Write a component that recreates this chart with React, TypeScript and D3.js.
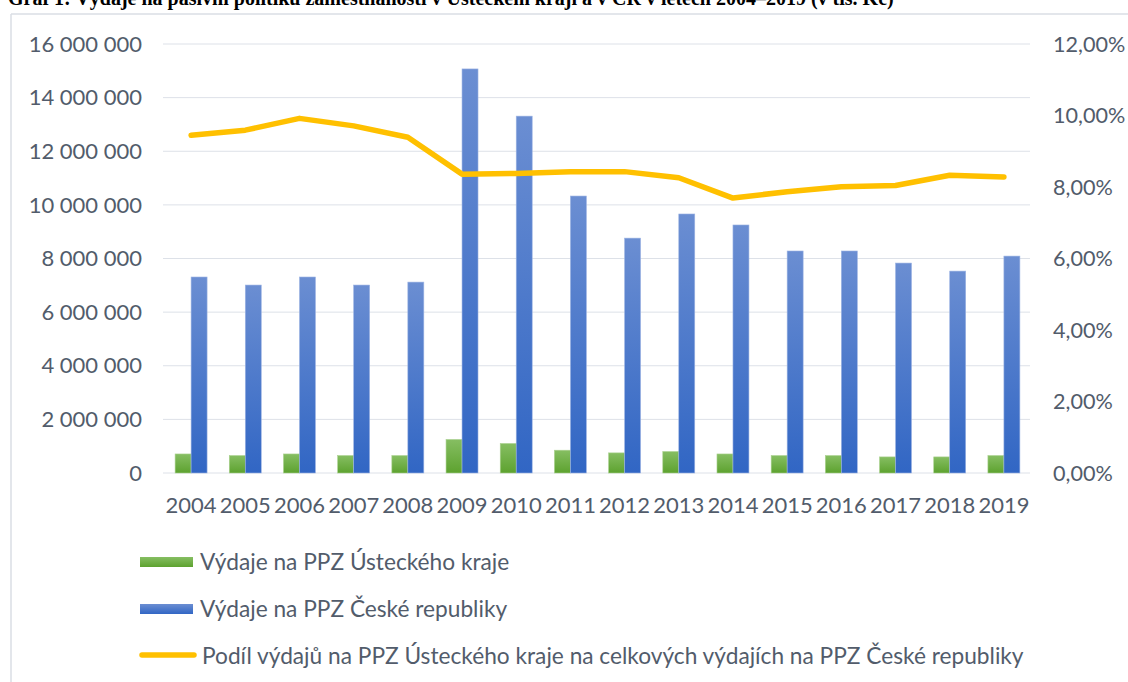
import React from "react";
import * as d3 from "d3";

const years = ["2004","2005","2006","2007","2008","2009","2010","2011","2012","2013","2014","2015","2016","2017","2018","2019"];
const regionSpend = [710000,650000,710000,650000,650000,1250000,1100000,850000,750000,800000,710000,650000,650000,600000,600000,650000];
const czSpend = [7310000,7010000,7310000,7010000,7120000,15070000,13310000,10330000,8760000,9660000,9250000,8280000,8280000,7830000,7530000,8090000];
const sharePct = [9.45,9.59,9.92,9.71,9.39,8.36,8.38,8.43,8.43,8.26,7.69,7.87,8.01,8.04,8.33,8.28];
const leftTicks = [0,2000000,4000000,6000000,8000000,10000000,12000000,14000000,16000000];
const rightTicks = [0,2,4,6,8,10,12];
const legendLabels = [
  "Výdaje na PPZ Ústeckého kraje",
  "Výdaje na PPZ České republiky",
  "Podíl výdajů na PPZ Ústeckého kraje na celkových výdajích na PPZ České republiky",
];
const titleText = "Graf 1: Výdaje na pasivní politiku zaměstnanosti v Ústeckém kraji a v ČR v letech 2004–2019 (v tis. Kč)";

const FONT = "Lato, 'Open Sans', sans-serif";
const TXT = "#525c6b";

const fmtLeft = (v: number) => d3.format(",")(v).replace(/,/g, " ");
const fmtRight = (v: number) => v.toFixed(2).replace(".", ",") + "%";

export default function App() {
  const W = 1128, H = 682;
  const x0 = 163, x1 = 1030, yTop = 44, yBot = 473;
  const x = d3.scaleBand<string>().domain(years).range([x0 + 1, x1 + 1]).paddingInner(0.41).paddingOuter(0.205);
  const xs = d3.scaleBand<string>().domain(["g", "b"]).range([0, x.bandwidth()]);
  const yL = d3.scaleLinear().domain([0, 16000000]).range([yBot, yTop]);
  const yR = d3.scaleLinear().domain([0, 12]).range([yBot, yTop]);
  const line = d3.line<number>()
    .x((_, i) => (x(years[i]) as number) + x.bandwidth() / 2)
    .y((d) => yR(d));

  return (
    <svg width={W} height={H} style={{ position: "absolute", left: 0, top: 0, background: "#fff" }}>
      <defs>
        <linearGradient id="gG" x1="0" y1="0" x2="0" y2="1">
          <stop offset="0" stopColor="#86be62" />
          <stop offset="1" stopColor="#5da22f" />
        </linearGradient>
        <linearGradient id="gB" x1="0" y1="0" x2="0" y2="1">
          <stop offset="0" stopColor="#6b8ed2" />
          <stop offset="1" stopColor="#3166c4" />
        </linearGradient>
      </defs>
      <text x={8} y={5} fontFamily="'Liberation Serif', serif" fontWeight="bold" fontSize={20} fill="#000">{titleText}</text>
      <line x1={11} y1={14} x2={W} y2={14} stroke="#dadee4" strokeWidth={1.5} />
      <line x1={11} y1={14} x2={11} y2={H} stroke="#dadee4" strokeWidth={1.5} />
      {leftTicks.map((t) => (
        <line key={"g" + t} x1={x0} x2={x1} y1={yL(t)} y2={yL(t)} stroke="#dde1e8" strokeWidth={1} />
      ))}
      {leftTicks.map((t) => (
        <text key={"l" + t} x={142} y={yL(t)} dy="0.35em" textAnchor="end" fontFamily={FONT} fontSize={22} fill={TXT}>{fmtLeft(t)}</text>
      ))}
      {rightTicks.map((t) => (
        <text key={"r" + t} x={1053} y={yR(t)} dy="0.35em" textAnchor="start" fontFamily={FONT} fontSize={21.6} fill={TXT}>{fmtRight(t)}</text>
      ))}
      {years.map((yr, i) => (
        <g key={yr}>
          <rect x={(x(yr) as number) + (xs("g") as number)} y={yL(regionSpend[i])} width={xs.bandwidth()} height={yBot - yL(regionSpend[i])} fill="url(#gG)" stroke="#a9d18e" strokeWidth={0.6} />
          <rect x={(x(yr) as number) + (xs("b") as number)} y={yL(czSpend[i])} width={xs.bandwidth()} height={yBot - yL(czSpend[i])} fill="url(#gB)" stroke="#9db4e3" strokeWidth={0.6} />
          <text x={(x(yr) as number) + x.bandwidth() / 2} y={505} dy="0.35em" textAnchor="middle" fontFamily={FONT} fontSize={22} fill={TXT}>{yr}</text>
        </g>
      ))}
      <path d={line(sharePct) || ""} fill="none" stroke="#ffc000" strokeWidth={5.5} strokeLinejoin="round" strokeLinecap="round" />
      <rect x={140} y={557} width={53} height={10} fill="url(#gG)" />
      <text x={200} y={562} dy="0.35em" fontFamily={FONT} fontSize={22.7} fill={TXT}>{legendLabels[0]}</text>
      <rect x={140} y={604} width={53} height={10} fill="url(#gB)" />
      <text x={200} y={609} dy="0.35em" fontFamily={FONT} fontSize={22.7} fill={TXT}>{legendLabels[1]}</text>
      <line x1={142} x2={194} y1={655} y2={655} stroke="#ffc000" strokeWidth={5.5} strokeLinecap="round" />
      <text x={202} y={656} dy="0.35em" fontFamily={FONT} fontSize={22.7} fill={TXT}>{legendLabels[2]}</text>
    </svg>
  );
}
